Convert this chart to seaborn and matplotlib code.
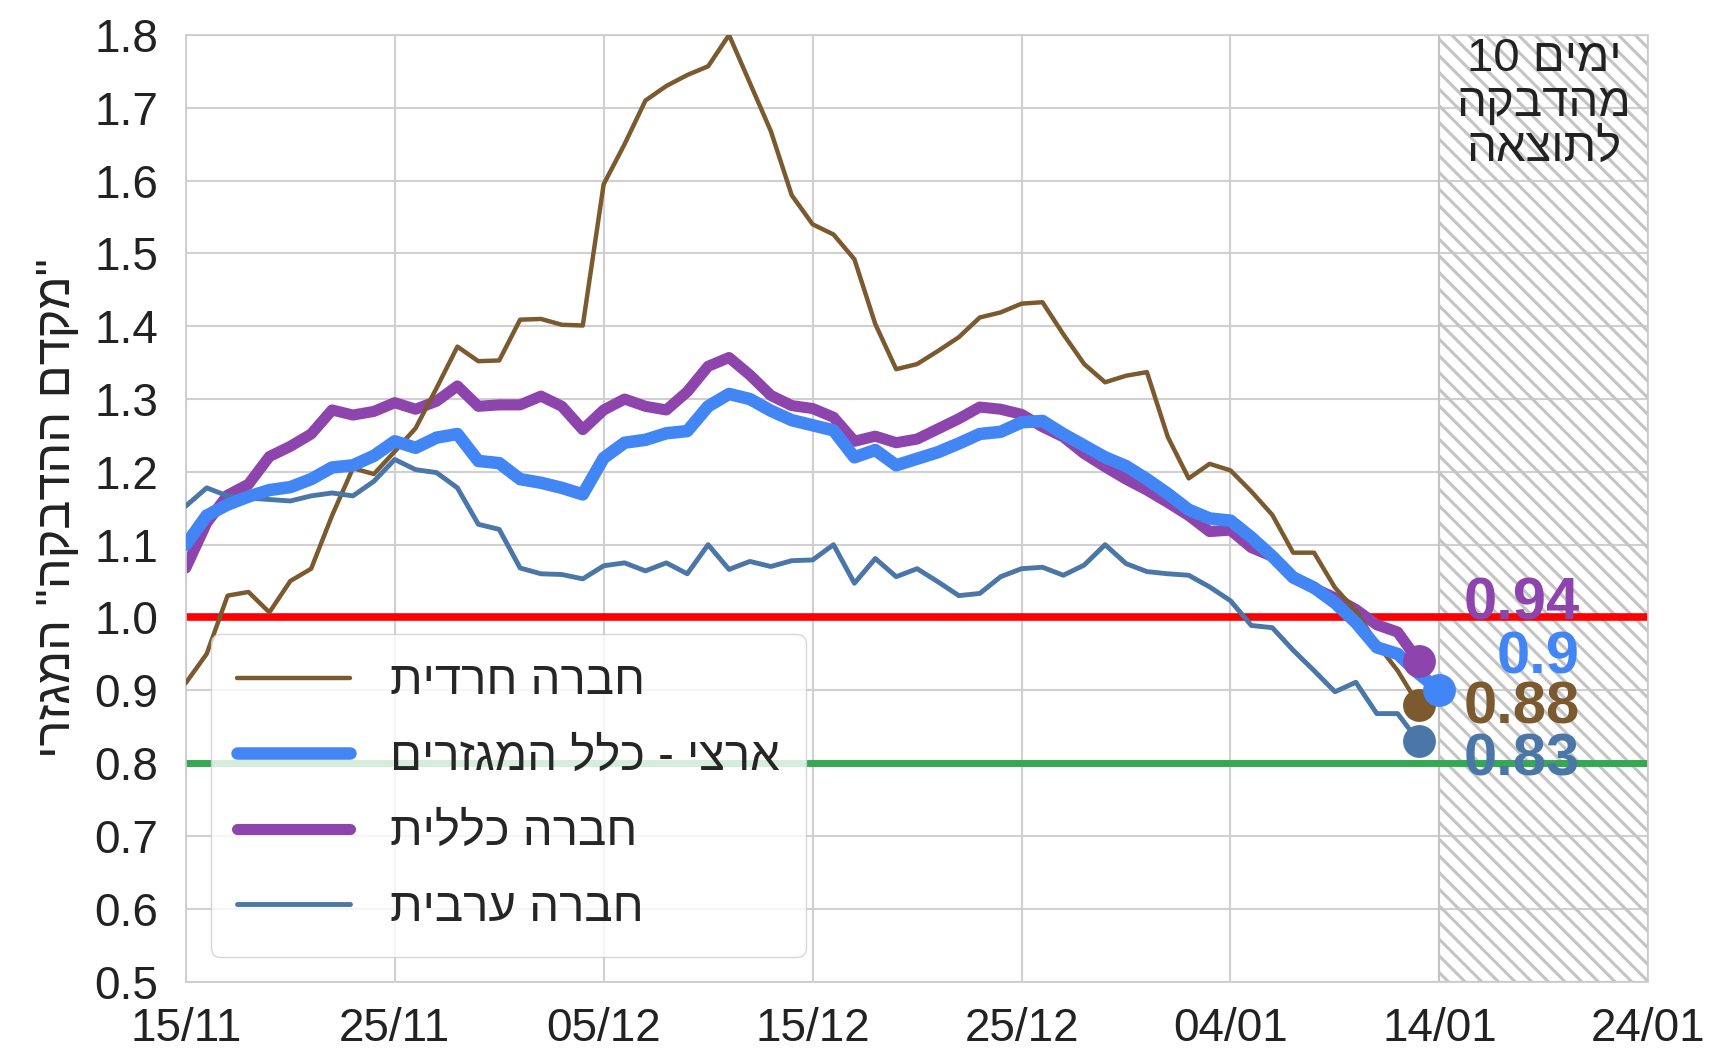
import pandas as pd
import matplotlib.pyplot as plt
import matplotlib.dates as mdates
from matplotlib.ticker import MultipleLocator, FormatStrFormatter
import seaborn as sns

# daily values from 15/11/2020
start = '2020-11-15'
haredi = [0.91, 0.95, 1.03, 1.035, 1.007, 1.05, 1.067, 1.14, 1.205, 1.197,
          1.228, 1.26, 1.315, 1.372, 1.352, 1.353, 1.409, 1.41, 1.402, 1.401,
          1.595, 1.65, 1.71, 1.73, 1.745, 1.757, 1.8, 1.734, 1.668, 1.58,
          1.54, 1.526, 1.492, 1.403, 1.341, 1.348, 1.366, 1.385, 1.412, 1.419,
          1.431, 1.433, 1.389, 1.348, 1.323, 1.332, 1.337, 1.248, 1.191, 1.211,
          1.202, 1.173, 1.141, 1.089, 1.089, 1.041, 1.009, 0.964, 0.927, 0.88]
national = [1.10, 1.14, 1.155, 1.166, 1.175, 1.179, 1.19, 1.206, 1.209, 1.222,
            1.242, 1.233, 1.247, 1.252, 1.215, 1.212, 1.19, 1.185, 1.178, 1.169,
            1.219, 1.24, 1.244, 1.253, 1.256, 1.29, 1.307, 1.30, 1.284, 1.271,
            1.264, 1.257, 1.22, 1.23, 1.209, 1.218, 1.227, 1.239, 1.252, 1.255,
            1.268, 1.27, 1.252, 1.236, 1.22, 1.208, 1.19, 1.17, 1.148, 1.136,
            1.133, 1.11, 1.084, 1.055, 1.041, 1.02, 0.993, 0.959, 0.95, 0.923,
            0.90]
general = [1.068, 1.13, 1.168, 1.183, 1.221, 1.235, 1.252, 1.285, 1.278, 1.283,
           1.295, 1.286, 1.297, 1.318, 1.29, 1.292, 1.292, 1.304, 1.29, 1.258,
           1.285, 1.30, 1.29, 1.285, 1.31, 1.345, 1.357, 1.333, 1.305, 1.291,
           1.287, 1.275, 1.242, 1.249, 1.24, 1.245, 1.259, 1.273, 1.289, 1.286,
           1.279, 1.262, 1.248, 1.225, 1.207, 1.19, 1.175, 1.158, 1.14, 1.118,
           1.12, 1.096, 1.084, 1.055, 1.04, 1.027, 1.011, 0.99, 0.98, 0.94]
arab = [1.153, 1.178, 1.167, 1.164, 1.162, 1.16, 1.167, 1.171, 1.167, 1.187,
        1.217, 1.203, 1.199, 1.178, 1.128, 1.121, 1.068, 1.06, 1.059, 1.053,
        1.071, 1.075, 1.064, 1.075, 1.06, 1.1, 1.066, 1.077, 1.07, 1.078,
        1.079, 1.1, 1.047, 1.081, 1.056, 1.067, 1.049, 1.03, 1.033, 1.056,
        1.067, 1.069, 1.058, 1.072, 1.1, 1.074, 1.063, 1.06, 1.058, 1.042,
        1.023, 0.989, 0.986, 0.955, 0.927, 0.898, 0.911, 0.868, 0.868, 0.83]

names = ['חברה חרדית', 'ארצי - כלל המגזרים', 'חברה כללית', 'חברה ערבית']
ylabel = '"מקדם ההדבקה" המגזרי'
note = ['ימים', 'מהדבקה', 'לתוצאה']


def rtl(s):
    # matplotlib has no bidi support, so give Hebrew in visual order
    return s[::-1]


sns.set_theme(style='whitegrid')
plt.rcParams['font.family'] = ['Liberation Sans', 'DejaVu Sans']
plt.rcParams['hatch.linewidth'] = 2.2
plt.rcParams['lines.solid_capstyle'] = 'round'
plt.rcParams['lines.solid_joinstyle'] = 'round'

fig = plt.figure(figsize=(17.14, 10.57), dpi=100)
ax = fig.add_axes([0.1084, 0.0714, 0.8533, 0.8955])

series = [
    (haredi, names[0], '#7b5a2f', 3.2, 3, -0.004),
    (national, names[1], '#4285f4', 9, 4, 0.044),
    (general, names[2], '#8e44ad', 8, 2.5, 0.079),
    (arab, names[3], '#4a76a8', 3.5, 3.5, -0.026),
]

for vals, name, col, lw, z, off in series:
    days = pd.date_range(start, periods=len(vals), freq='D')
    sns.lineplot(x=days, y=vals, ax=ax, color=col, linewidth=lw,
                 label=rtl(name), zorder=z)

for vals, name, col, lw, z, off in series:
    last = pd.date_range(start, periods=len(vals), freq='D')[-1]
    sns.scatterplot(x=[last], y=[vals[-1]], ax=ax, color=col, s=560,
                    linewidth=0, zorder=6, legend=False)
    ax.text(pd.Timestamp('2021-01-20 17:00'), vals[-1] + off, f'{vals[-1]:g}',
            color=col, fontsize=43, fontweight='bold', ha='right', va='center',
            zorder=7)

ax.axhline(1.0, color='#ff0000', linewidth=5.5, zorder=1.5)
ax.axhline(0.8, color='#34a853', linewidth=5, zorder=1.5)

ax.axvspan(pd.Timestamp('2021-01-14'), pd.Timestamp('2021-01-24'),
           facecolor='none', edgecolor='#c4c4c4', hatch='\\\\', linewidth=1.5,
           zorder=0.8)
ax.text(pd.Timestamp('2021-01-19'), 1.797,
        '\n'.join(['10 ' + rtl(note[0]), rtl(note[1]), rtl(note[2])]),
        ha='center', va='top', fontsize=34, linespacing=1.02, color='#222222')

ax.set_xlim(pd.Timestamp('2020-11-15'), pd.Timestamp('2021-01-24'))
ax.set_xticks(pd.date_range('2020-11-15', '2021-01-24', freq='10D'))
ax.xaxis.set_major_formatter(mdates.DateFormatter('%d/%m'))
ax.set_ylim(0.5, 1.8)
ax.yaxis.set_major_locator(MultipleLocator(0.1))
ax.yaxis.set_major_formatter(FormatStrFormatter('%.1f'))
ax.tick_params(axis='both', labelsize=33, colors='#222222')
ax.tick_params(axis='y', pad=14)
ax.tick_params(axis='x', pad=12)
ax.grid(True, color='#d0d0d0', linewidth=1.5)
ax.set_xlabel('')
ax.set_ylabel(rtl(ylabel), fontsize=35, color='#222222', labelpad=10)

ax.legend(loc='lower left', bbox_to_anchor=(0.017, 0.026), borderaxespad=0,
          fontsize=34, handlelength=2.4, handletextpad=0.85, labelspacing=0.67,
          borderpad=0.55, framealpha=0.8)

plt.savefig('out.png', dpi=100)
